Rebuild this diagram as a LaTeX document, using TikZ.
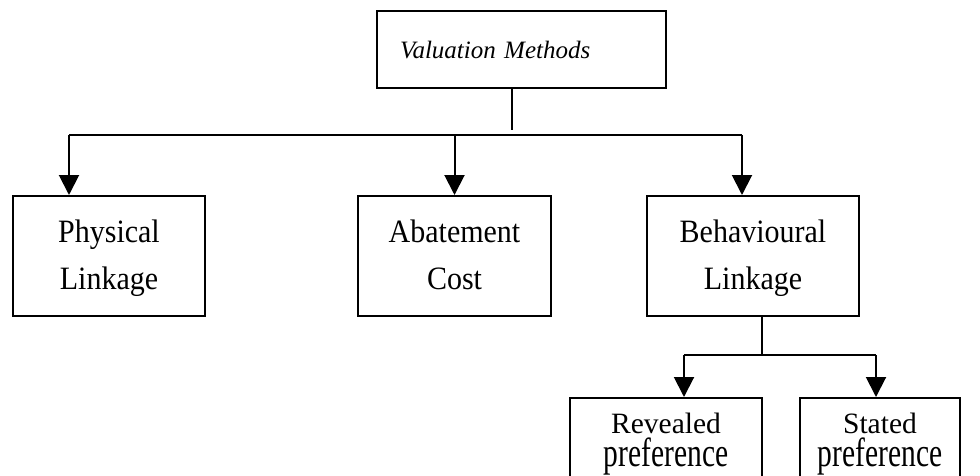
\documentclass[tikz,border=0pt]{standalone}
\usepackage{fontspec}
\setmainfont{Liberation Serif}
\usetikzlibrary{arrows.meta,calc}
\begin{document}
\begin{tikzpicture}[x=1pt,y=-1pt,
  link/.style={line width=2pt},
  arr/.style={link,-{Triangle[length=20pt,width=20pt]}},
  box/.style={draw,line width=2pt,inner sep=0pt,align=center,
    font=\fontsize{32.6}{47}\selectfont\addfontfeature{FakeStretch=0.92}},
  leaf/.style={draw,line width=2pt,inner sep=0pt,align=center,
    font=\fontsize{29.5}{33}\selectfont}]
\useasboundingbox (0,0) rectangle (980,476);

% root
\node[box,anchor=north west,align=left,minimum width=289pt,
  text width=243pt,inner xsep=23pt,text height=48pt,text depth=29pt,
  font=\itshape\fontsize{25}{30}\selectfont] (vm) at (376,10) {Valuation Methods};

% first level (text height runs to the baseline of the last line)
\node[box,anchor=north west,minimum width=192pt,text height=93pt,text depth=27pt]
  (pl) at (12,195) {Physical\\Linkage};
\node[box,anchor=north west,minimum width=193pt,text height=93pt,text depth=27pt]
  (ac) at (357,195) {Abatement\\Cost};
\node[box,anchor=north west,minimum width=212pt,text height=93pt,text depth=27pt]
  (bl) at (646,195) {Behavioural\\Linkage};

% second level, running past the page foot
\node[leaf,anchor=north west,minimum width=192pt,text height=68pt,text depth=20pt]
  (rp) at (569,397) {Revealed\\\scalebox{1}[1.38]{preference}};
\node[leaf,anchor=north west,minimum width=160pt,text height=68pt,text depth=20pt]
  (sp) at (799,397) {Stated\\\scalebox{1}[1.38]{preference}};

% connectors from the root
\coordinate (stem) at (512,130);
\coordinate (hl) at (69,135);
\coordinate (hr) at (742,135);
\draw[link] (stem |- vm.south) -- (stem);
\draw[link] (hl) -- (hr);
\draw[arr] (hl) -- (hl |- pl.north);
\draw[arr] (ac.north |- hl) -- (ac.north);
\draw[arr] (hr) -- (hr |- bl.north);

% connectors from Behavioural Linkage
\coordinate (bj) at (762,355);
\coordinate (bll) at (684,355);
\coordinate (blr) at (876,355);
\draw[link] (bj |- bl.south) -- (bj);
\draw[link] (bll) -- (blr);
\draw[arr] (bll) -- (bll |- rp.north);
\draw[arr] (blr) -- (blr |- sp.north);
\end{tikzpicture}
\end{document}
